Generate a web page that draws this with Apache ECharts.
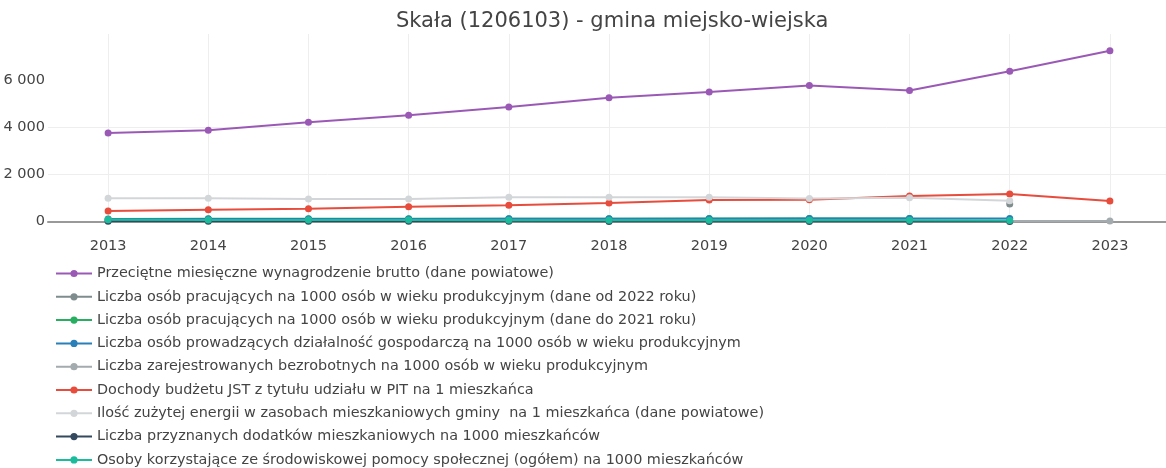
<!DOCTYPE html>
<html>
<head>
<meta charset="utf-8">
<script src="https://cdn.jsdelivr.net/npm/echarts@6/dist/echarts.min.js"></script>
<style>
html,body{margin:0;padding:0;background:#fff;}
#chart{width:1166px;height:468px;}
</style>
</head>
<body>
<div id="chart"></div>
<script>
const years = [2013, 2014, 2015, 2016, 2017, 2018, 2019, 2020, 2021, 2022, 2023];
const yTicks = [0, 2000, 4000, 6000];

const names = [
  'Przeciętne miesięczne wynagrodzenie brutto (dane powiatowe)',
  'Liczba osób pracujących na 1000 osób w wieku produkcyjnym (dane od 2022 roku)',
  'Liczba osób pracujących na 1000 osób w wieku produkcyjnym (dane do 2021 roku)',
  'Liczba osób prowadzących działalność gospodarczą na 1000 osób w wieku produkcyjnym',
  'Liczba zarejestrowanych bezrobotnych na 1000 osób w wieku produkcyjnym',
  'Dochody budżetu JST z tytułu udziału w PIT na 1 mieszkańca',
  'Ilość zużytej energii w zasobach mieszkaniowych gminy  na 1 mieszkańca (dane powiatowe)',
  'Liczba przyznanych dodatków mieszkaniowych na 1000 mieszkańców',
  'Osoby korzystające ze środowiskowej pomocy społecznej (ogółem) na 1000 mieszkańców'
];

const wynagrodzenie = [3757, 3872, 4213, 4511, 4864, 5255, 5502, 5774, 5561, 6383, 7247];
const pracujacyOd2022 = [null, null, null, null, null, null, null, null, null, 745, null];
const pracujacyDo2021 = [110, 112, 115, 118, 120, 122, 125, 128, 130, null, null];
const dzialalnosc = [98, 102, 105, 108, 112, 115, 120, 123, 127, 130, null];
const bezrobotni = [60, 55, 48, 42, 35, 30, 28, 32, 30, 25, 25];
const dochodyPIT = [450, 502, 545, 630, 689, 787, 915, 920, 1085, 1170, 872];
const energia = [987, 987, 950, 957, 1030, 1030, 1030, 975, 1013, 885, null];
const dodatki = [10, 9, 8, 7, 6, 5, 5, 4, 4, 3, null];
const pomoc = [70, 68, 65, 62, 58, 55, 52, 50, 48, 47, null];

const seriesValues = [wynagrodzenie, pracujacyOd2022, pracujacyDo2021, dzialalnosc, bezrobotni, dochodyPIT, energia, dodatki, pomoc];
const colors = ['#9b59b6', '#7f8c8d', '#27ae60', '#2980b9', '#a3abae', '#e74c3c', '#d3d6d8', '#34495e', '#1abc9c'];

const chart = echarts.init(document.getElementById('chart'));

function fmt(v) {
  return String(v).replace(/\B(?=(\d{3})+(?!\d))/g, ' ');
}

const series = names.map((n, i) => ({
  name: n,
  type: 'line',
  data: years.map((y, k) => [y, seriesValues[i][k]]),
  connectNulls: false,
  symbol: 'circle',
  symbolSize: 7,
  showSymbol: true,
  lineStyle: { width: 2, color: colors[i] },
  itemStyle: { color: colors[i] },
  emphasis: { disabled: true },
  animation: false
}));

chart.setOption({
  animation: false,
  color: colors,
  textStyle: { fontFamily: 'DejaVu Sans' },
  title: {
    text: 'Skała (1206103) - gmina miejsko-wiejska',
    left: 391,
    top: 6,
    textStyle: { fontFamily: 'DejaVu Sans', fontSize: 21, fontWeight: 'normal', color: '#444' }
  },
  grid: { left: 48, right: 0, top: 34, bottom: 246.5, containLabel: false, outerBoundsMode: 'none' },
  xAxis: {
    type: 'value',
    min: 2012.4,
    max: 2023.56,
    axisLine: { show: true, onZero: true, lineStyle: { color: '#999', width: 2 } },
    axisTick: { show: false, customValues: years },
    axisLabel: { customValues: years, margin: 17, fontSize: 14.5, color: '#444', formatter: v => String(v) },
    splitLine: { show: true, lineStyle: { color: '#eee', width: 1 } }
  },
  yAxis: {
    type: 'value',
    min: 0,
    max: 7960,
    axisLine: { show: false },
    axisTick: { show: false, customValues: yTicks },
    axisLabel: { customValues: yTicks, margin: 3, align: 'right', fontSize: 14.5, color: '#444', formatter: v => fmt(v) },
    splitLine: { show: true, showMaxLine: false, lineStyle: { color: '#eee', width: 1 } }
  },
  legend: {
    orient: 'vertical',
    left: 50,
    top: 260,
    height: 260,
    itemWidth: 36,
    itemHeight: 9,
    itemGap: 6.3,
    data: names,
    textStyle: { fontFamily: 'DejaVu Sans', fontSize: 14.4, color: '#444', lineHeight: 17 },
    selectedMode: false
  },
  series: series
});
</script>
</body>
</html>
